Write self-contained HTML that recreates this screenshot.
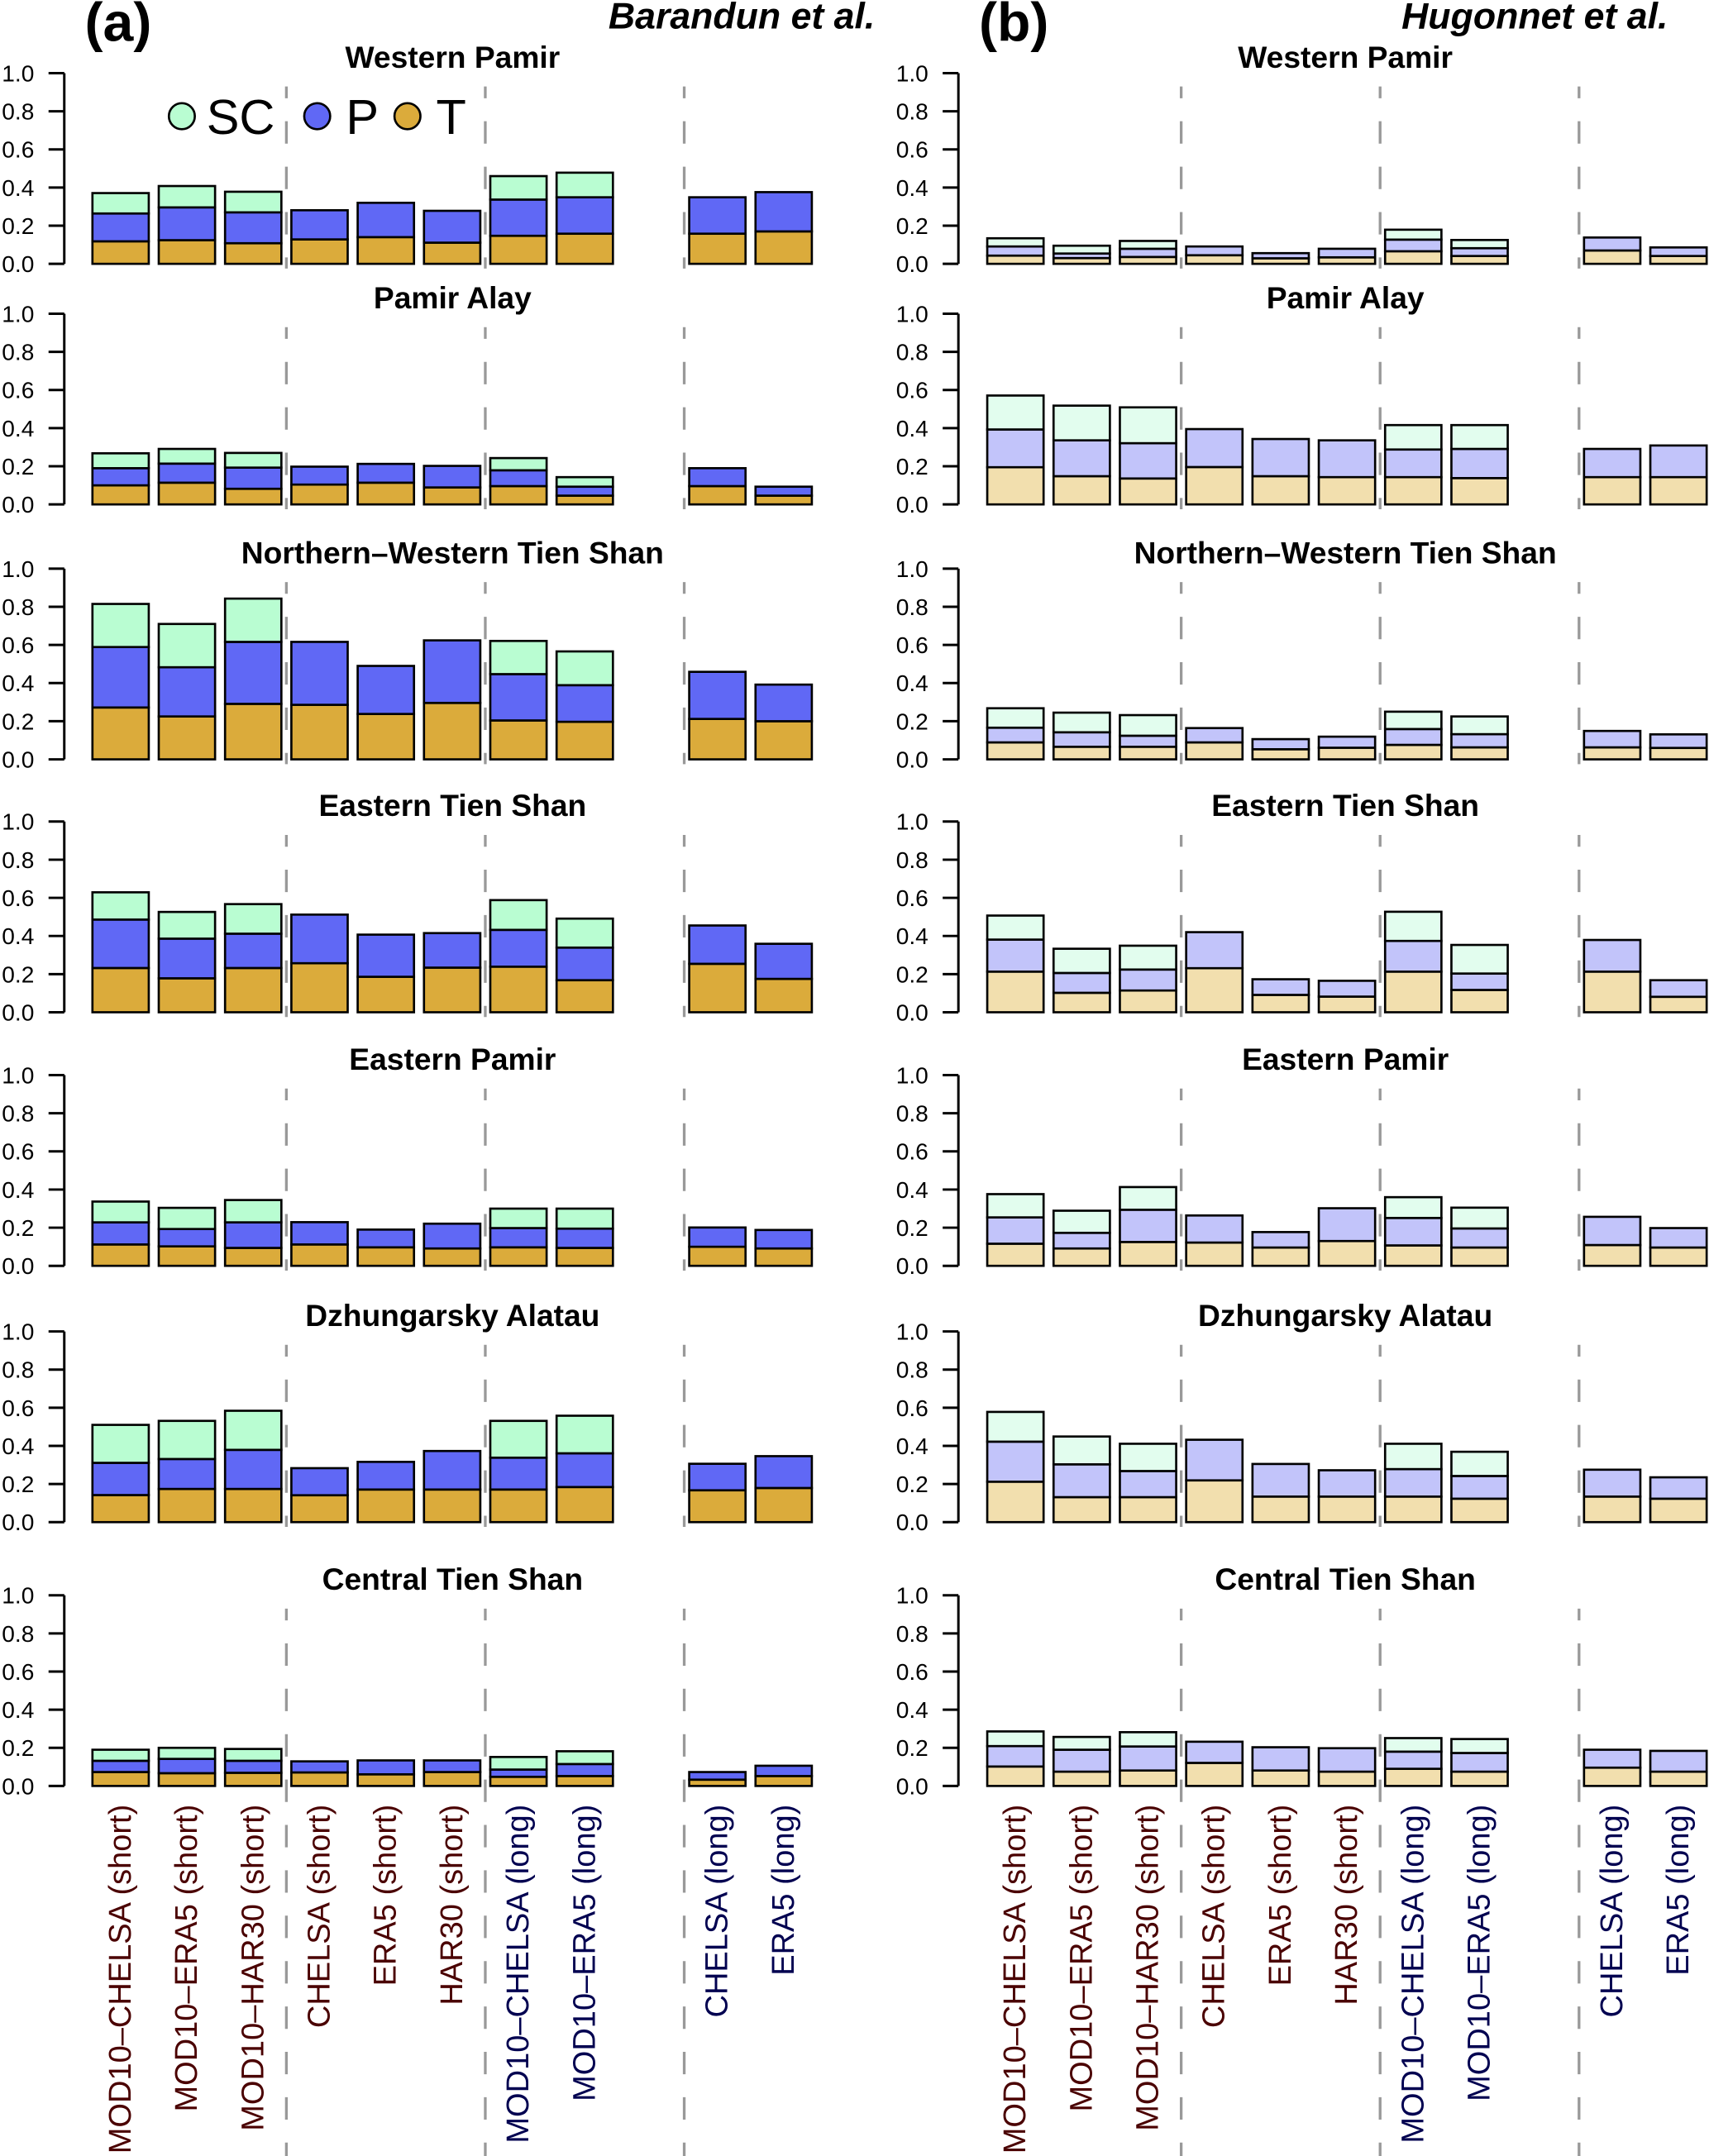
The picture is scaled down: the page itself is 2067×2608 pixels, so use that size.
<!DOCTYPE html>
<html><head><meta charset="utf-8"><title>Snow cover, precipitation and temperature contributions</title>
<style>html,body{margin:0;padding:0;background:#fff}svg{display:block}</style></head>
<body>
<svg id="fig" xmlns="http://www.w3.org/2000/svg" width="2067" height="2608" viewBox="0 0 1250 1577.2" font-family="'Liberation Sans', Arial, sans-serif">
<rect width="1250" height="1577.2" fill="#fff"/>
<text x="62" y="30" font-size="40" font-weight="bold">(a)</text>
<text x="716" y="30" font-size="40" font-weight="bold">(b)</text>
<text x="640" y="21" font-size="27" font-weight="bold" font-style="italic" text-anchor="end">Barandun et al.</text>
<text x="1220" y="21" font-size="27" font-weight="bold" font-style="italic" text-anchor="end">Hugonnet et al.</text>
<g id="plots"></g>
<g>
  <circle cx="133" cy="85" r="9.5" fill="#b9fdd2" stroke="#000" stroke-width="1.6"/>
  <text x="151" y="98" font-size="36">SC</text>
  <circle cx="232" cy="85" r="9.5" fill="#6068f5" stroke="#000" stroke-width="1.6"/>
  <text x="253" y="98" font-size="36">P</text>
  <circle cx="298" cy="85" r="9.5" fill="#dbab3b" stroke="#000" stroke-width="1.6"/>
  <text x="319" y="98" font-size="36">T</text>
</g>
</svg>
<script>
// ---- data ----
const regions = ["Western Pamir","Pamir Alay","Northern\u2013Western Tien Shan","Eastern Tien Shan","Eastern Pamir","Dzhungarsky Alatau","Central Tien Shan"];
const categories = ["MOD10\u2013CHELSA (short)","MOD10\u2013ERA5 (short)","MOD10\u2013HAR30 (short)","CHELSA (short)","ERA5 (short)","HAR30 (short)","MOD10\u2013CHELSA (long)","MOD10\u2013ERA5 (long)","CHELSA (long)","ERA5 (long)"];
const categoryGroup = ["short","short","short","short","short","short","long","long","long","long"];
const categorySlot = [0,1,2,3,4,5,6,7,9,10];
const yTicks = [0,0.2,0.4,0.6,0.8,1.0];
const yTickLabels = ["0.0","0.2","0.4","0.6","0.8","1.0"];
const groupSeparators = [2.5,5.5,8.5];

// Barandun et al. (a): cumulative tops; T, T+P, T+P+SC (null = no SC)
const aT = [
 [.118,.124,.108,.128,.14,.111,.147,.158,.158,.17],
 [.10,.114,.082,.104,.114,.089,.096,.046,.096,.046],
 [.272,.225,.291,.286,.238,.296,.204,.197,.212,.20],
 [.232,.178,.232,.257,.186,.234,.239,.168,.254,.175],
 [.112,.102,.094,.112,.097,.091,.097,.094,.10,.091],
 [.142,.174,.174,.141,.171,.171,.171,.184,.167,.179],
 [.073,.067,.069,.071,.061,.073,.048,.052,.033,.052]];
const aTP = [
 [.264,.296,.27,.281,.32,.278,.337,.349,.349,.376],
 [.19,.214,.193,.198,.2125,.202,.179,.093,.19,.093],
 [.589,.483,.616,.616,.49,.624,.447,.389,.459,.392],
 [.486,.386,.412,.512,.407,.415,.432,.339,.455,.359],
 [.228,.193,.228,.229,.19,.221,.198,.195,.201,.188],
 [.311,.331,.379,.283,.316,.373,.338,.361,.306,.346],
 [.132,.142,.132,.129,.134,.134,.086,.115,.073,.106]];
const aTotal = [
 [.371,.408,.378,null,null,null,.46,.478,null,null],
 [.268,.291,.27,null,null,null,.243,.143,null,null],
 [.815,.71,.843,null,null,null,.621,.566,null,null],
 [.629,.526,.567,null,null,null,.588,.491,null,null],
 [.337,.304,.345,null,null,null,.30,.30,null,null],
 [.51,.531,.584,null,null,null,.531,.558,null,null],
 [.19,.20,.194,null,null,null,.152,.182,null,null]];

// Hugonnet et al. (b)
const bT = [
 [.043,.03,.036,.045,.029,.034,.066,.041,.07,.041],
 [.195,.148,.136,.196,.148,.143,.143,.138,.143,.143],
 [.089,.066,.066,.089,.053,.061,.076,.063,.063,.06],
 [.213,.102,.114,.231,.091,.082,.213,.117,.213,.081],
 [.116,.091,.125,.122,.096,.13,.107,.096,.109,.096],
 [.212,.131,.131,.219,.134,.134,.134,.123,.134,.123],
 [.102,.075,.081,.121,.081,.075,.09,.075,.096,.075]];
const bTP = [
 [.091,.054,.079,.091,.056,.079,.127,.082,.138,.086],
 [.393,.336,.321,.395,.343,.336,.288,.291,.291,.309],
 [.166,.142,.124,.164,.106,.119,.159,.132,.149,.131],
 [.381,.206,.224,.42,.173,.165,.374,.203,.379,.168],
 [.254,.173,.294,.264,.177,.302,.251,.196,.257,.198],
 [.422,.303,.268,.432,.305,.272,.278,.242,.275,.235],
 [.209,.19,.207,.232,.203,.198,.18,.173,.19,.184]];
const bTotal = [
 [.134,.095,.12,null,null,null,.179,.125,null,null],
 [.571,.518,.509,null,null,null,.416,.416,null,null],
 [.268,.245,.232,null,null,null,.25,.225,null,null],
 [.507,.333,.349,null,null,null,.527,.353,null,null],
 [.376,.289,.413,null,null,null,.36,.305,null,null],
 [.578,.449,.411,null,null,null,.411,.369,null,null],
 [.286,.257,.282,null,null,null,.251,.246,null,null]];

// ---- layout ----
const NS = "http://www.w3.org/2000/svg";
const plots = document.getElementById('plots');
const panelBottoms = [193,369,555.5,740.5,926,1113.5,1306.5];
const panelH = 139.5;
const columns = [
 {key:'a', axisX:47, barX0:67.6, titleX:331, T:aT, TP:aTP, TOT:aTotal, colT:'#dbab3b', colP:'#6068f5', colSC:'#b9fdd2'},
 {key:'b', axisX:701, barX0:722.1, titleX:984, T:bT, TP:bTP, TOT:bTotal, colT:'#f2dfae', colP:'#c2c4fa', colSC:'#e2fdee'}
];
const pitch = 48.5, barW = 41.2;

function mk(tag, attrs, parent){
  const e = document.createElementNS(NS, tag);
  for (const k in attrs) e.setAttribute(k, attrs[k]);
  parent.appendChild(e);
  return e;
}

columns.forEach(col => {
  const xOf = s => col.barX0 + s*pitch;
  regions.forEach((reg, r) => {
    const bottom = panelBottoms[r];
    const yOf = v => bottom - v*panelH;
    const g = mk('g', {}, plots);
    
    
    const t = mk('text', {x: col.titleX, y: yOf(1) - 4, 'font-size': 22.5, 'font-weight':'bold', 'text-anchor':'middle'}, g);
    
    
    t.textContent = reg;
    const isLast = r === regions.length - 1;
    groupSeparators.forEach(s => {
      const x = col.barX0 + s*pitch + barW/2;
      const l = mk('line', {x1:x, x2:x, y1: yOf(1)+9.8, y2: isLast ? 1577.2 : bottom+3.5, stroke:'#999', 'stroke-width':2, 'stroke-dasharray':'16.4 16.8', 'stroke-dashoffset':7.8}, g);
      
      
    });
    const ax = mk('line', {x1:col.axisX, x2:col.axisX, y1:yOf(1), y2:yOf(0), stroke:'#000', 'stroke-width':1.8}, g);
    
    
    yTicks.forEach((v, i) => {
      const tk = mk('line', {x1:col.axisX-11.5, x2:col.axisX, y1:yOf(v), y2:yOf(v), stroke:'#000', 'stroke-width':1.8}, g);
      
      
      const tl = mk('text', {x: col.axisX-22, y: yOf(v)+6, 'font-size':17, 'text-anchor':'end'}, g);
      
      
      tl.textContent = yTickLabels[i];
    });
    categories.forEach((c, i) => {
      const x = xOf(categorySlot[i]);
      const tv = col.T[r][i], tp = col.TP[r][i], tot = col.TOT[r][i];
      const segs = [[0, tv, col.colT, 'bar-t'], [tv, tp, col.colP, 'bar-p']];
      if (tot !== null) segs.push([tp, tot, col.colSC, 'bar-sc']);
      segs.forEach(sg => {
        const y1 = yOf(sg[1]), y0 = yOf(sg[0]);
        const rc = mk('rect', {x:x, y:y1, width:barW, height:Math.max(0, y0-y1), fill:sg[2], stroke:'#000', 'stroke-width':1.6}, g);
        
        
      });
    });
    if (isLast) {
      categories.forEach((c, i) => {
        const cx = xOf(categorySlot[i]) + barW/2;
        const y = bottom + 13.5;
        const tl = mk('text', {x:0, y:0, 'font-size':23, 'text-anchor':'end', 'dominant-baseline':'central',
          fill: categoryGroup[i] === 'short' ? '#4a0000' : '#000050',
          transform: 'translate(' + cx + ',' + y + ') rotate(-90)'}, g);
        
        
        tl.textContent = c;
      });
    }
  });
});
</script>
</body></html>
